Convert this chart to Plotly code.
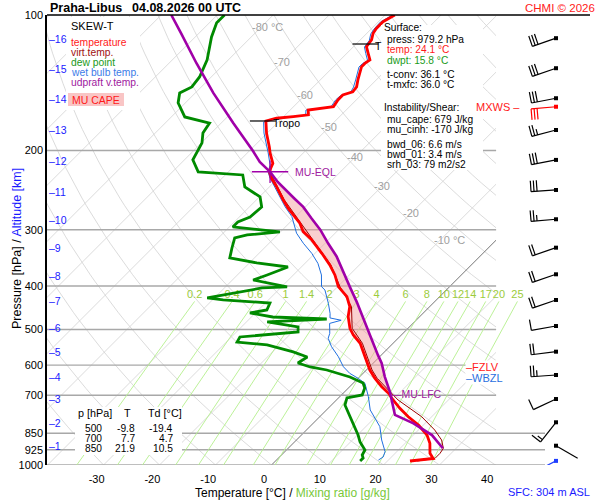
import numpy as np
import plotly.graph_objects as go

FONT = "Liberation Sans, Arial, sans-serif"

# ---------------- sounding Praha-Libus, 04.08.2026 00 UTC ----------------
# temperature: pressure [hPa] / temperature [°C]
t_p = [979.7, 972.2, 967.3, 941.9, 894.9, 857.6, 814.9, 781.2, 748.2, 717.1,
       693.0, 669.9, 641.8, 615.1, 574.5, 536.4, 514.2, 496.8, 468.0, 444.6,
       422.4, 401.5, 378.2, 359.3, 338.5, 316.0, 302.9, 290.2, 269.1, 257.7,
       240.6, 230.6, 224.1, 219.2, 213.6, 202.8, 196.2, 183.1, 172.0, 169.6,
       168.2, 166.7, 162.6, 161.1, 159.8, 154.4, 150.6, 148.1, 144.4, 139.4,
       134.8, 130.3, 128.1, 125.9, 121.7, 117.6, 113.6, 109.8, 107.1, 103.5, 100.0]
t_c = [24.0, 25.8, 27.7, 26.2, 24.4, 22.4, 19.1, 15.8, 12.8, 10.1,
       8.1, 5.7, 3.0, 0.6, -2.6, -5.9, -8.6, -10.4, -12.8, -14.3,
       -16.6, -19.9, -22.6, -25.3, -28.8, -33.0, -36.0, -38.1, -42.8, -45.2,
       -48.8, -51.2, -52.5, -53.1, -53.6, -55.9, -57.2, -60.1, -62.4, -61.0,
       -58.3, -55.9, -56.8, -55.0, -52.9, -53.3, -53.3, -52.1, -52.3, -53.3,
       -54.1, -55.0, -55.0, -54.7, -56.2, -57.7, -58.0, -58.9, -59.2, -59.2, -58.3]

# dew point
td_p = [979.7, 964.8, 950.0, 926.1, 889.0, 857.7, 827.5, 794.4, 766.3, 735.7,
        709.6, 698.9, 674.3, 657.2, 637.5, 627.6, 615.0, 605.6, 593.3, 575.3,
        560.8, 541.1, 533.0, 519.4, 506.3, 493.5, 481.0, 473.7, 468.9, 459.3,
        452.4, 436.5, 429.8, 425.4, 404.2, 402.1, 388.0, 378.2, 363.1, 355.6,
        346.7, 329.4, 312.9, 308.2, 303.5, 295.8, 288.3, 281.1, 267.1, 253.6,
        247.3, 241.0, 226.7, 223.2, 209.9, 192.4, 182.9, 173.8, 168.5, 162.5,
        156.8, 149.0, 144.5, 137.3, 125.8, 111.9, 104.1, 100.0]
td_c = [15.1, 15.1, 14.4, 14.0, 11.7, 10.1, 8.3, 6.3, 4.4, 2.4,
        1.5, 3.7, 2.9, 1.7, -1.7, -4.0, -7.1, -10.6, -13.5, -12.9,
        -16.3, -22.2, -28.1, -28.5, -19.0, -19.9, -26.3, -16.2, -26.2, -31.0,
        -28.5, -29.2, -38.1, -41.3, -33.3, -29.0, -36.3, -34.7, -32.4, -38.7,
        -44.4, -45.8, -47.1, -45.4, -40.1, -49.4, -49.4, -48.1, -47.8, -49.9,
        -52.1, -54.4, -56.9, -65.4, -68.5, -69.9, -71.5, -72.1, -77.6, -79.4,
        -81.3, -82.8, -81.7, -82.1, -83.8, -87.1, -88.7, -88.7]

# wet bulb temperature
tw_p = [974.7, 959.9, 934.2, 910.6, 879.9, 821.9, 787.4, 754.6, 705.0, 658.4,
        641.8, 625.6, 604.9, 574.5, 545.9, 522.9, 509.8, 484.6, 476.8, 471.2,
        460.4, 437.3, 408.4, 401.5, 378.2, 356.4, 338.5, 321.5, 305.4, 280.5,
        266.6, 253.4, 239.8, 230.2, 223.3, 215.4, 202.5, 195.5, 182.9, 173.0,
        170.2, 168.5, 167.2, 162.6, 161.3, 160.0, 154.4, 151.0, 148.4, 144.6,
        139.4, 134.9, 130.5, 128.2, 126.3, 121.8, 117.8, 113.9, 110.2, 107.5,
        103.6, 100.0]
tw_c = [18.2, 18.5, 17.9, 16.7, 15.2, 12.5, 10.1, 7.8, 5.1, 2.1,
        0.0, -2.4, -4.7, -7.4, -10.4, -12.5, -13.1, -14.9, -13.4, -15.8,
        -16.6, -18.7, -21.7, -22.9, -25.0, -27.7, -30.6, -33.9, -36.9, -40.7,
        -43.7, -46.4, -49.4, -51.5, -52.9, -53.8, -56.3, -57.8, -60.6, -62.6,
        -61.2, -58.7, -56.3, -57.2, -55.4, -53.3, -53.7, -53.6, -52.4, -52.8,
        -53.7, -54.5, -55.4, -55.4, -55.0, -56.6, -58.0, -58.3, -59.2, -59.5,
        -59.6, -58.7]

# virtual temperature
tv_p = [979.7, 966.3, 941.9, 918.1, 879.9, 836.2, 781.2, 717.1, 687.5, 641.8,
        615.1, 574.5, 536.4, 496.8, 444.6, 401.5, 359.3, 316.0, 290.2, 257.7, 224.1]
tv_c = [25.3, 28.0, 28.0, 27.7, 25.9, 22.9, 18.2, 11.0, 8.1, 3.4,
        1.0, -2.2, -5.5, -10.0, -14.0, -19.6, -25.1, -32.8, -37.9, -45.0, -52.4]

# most unstable parcel (updraft virtual temperature)
parcel_p = [918, 858, 808, 774, 723, 688, 637, 594, 570, 536, 501, 468, 434, 402, 372,
            344, 322, 300, 283, 267, 256, 245, 235, 223, 212, 200, 174, 149, 128, 110, 100]
parcel_c = [27.6, 23.3, 17.9, 13.1, 10.2, 8.1, 4.5, 1.5, -0.6, -3.6, -6.8, -10.1, -13.9,
            -17.8, -21.7, -25.6, -29.4, -33.3, -36.9, -40.4, -43.4, -46.4, -49.4, -52.6,
            -56.2, -59.5, -67.8, -76.8, -85.1, -93.1, -98.2]

# wind profile (direction [deg], speed [kt])
wind_p = [112.6, 131.3, 153.1, 180.1, 209.9, 244.8, 284.4, 328.9, 376.9, 429.8,
          491.1, 560.0, 630.9, 713.5, 803.7, 906.0]
wind_dir = [251, 251, 259, 255, 259, 266, 265, 251, 251, 251, 260, 263, 266, 245, 218, 120]
wind_kt = [30, 30, 30, 25, 30, 30, 25, 20, 20, 20, 10, 20, 25, 10, 15, 0]
sfc_wind = (979.2, 243, 0)
mxws_wind = (159.9, 265, 30)

# special levels
lfc_p, eql_p = 696.0, 223.0
fzl_p, wbzl_p = 607.0, 642.0
tropo_p = [172.0, 116.0]

# altitude marks [km] on the left axis
alt_km = list(range(1, 17))
alt_p = [907.3, 807.8, 714.5, 636.4, 561.7, 495.3, 431.4, 379.6, 329.9, 285.4,
         246.9, 211.0, 180.1, 153.7, 131.8, 113.1]

# standard level table
tab_p = ["500", "700", "850"]
tab_t = ["-9.8", "7.7", "21.9"]
tab_td = ["-19.4", "4.7", "10.5"]

surface_info = [("Surface:", "black", 0), ("press: 979.2 hPa", "black", 1),
                ("temp: 24.1 °C", "#ff1a1a", 1), ("dwpt: 15.8 °C", "#1a9a1a", 1),
                ("t-conv: 36.1 °C", "black", 1), ("t-mxfc: 36.0 °C", "black", 1)]
shear_info = ["Instability/Shear:", "mu_cape: 679 J/kg", "mu_cinh: -170 J/kg",
              "bwd_06: 6.6 m/s", "bwd_01: 3.4 m/s", "srh_03: 79 m2/s2"]

# diagram grid
isobars = [200, 300, 400, 500, 600, 700, 850, 925, 1000]
mix_w = [0.2, 0.4, 0.6, 1, 1.4, 2, 3, 4, 6, 8, 10, 12, 14, 17, 20, 25]
t_ticks = [-30, -20, -10, 0, 10, 20, 30, 40]
iso_lab_t = [-80, -70, -60, -50, -40, -30, -20, -10]
iso_lab_p = [106.3, 127.1, 150.5, 177.3, 206.8, 239.8, 275.4, 316.2]

# ---------------- geometry ----------------
SKEW = 80.3                 # isotherm skew, degC per pressure decade
PXD = 5.6                   # pixels per degree
X0, X1 = -40.1, 40.1        # diagram range (skewed degC)
X2MAX = X0 + (600 - 47) / PXD


def skew_x(t, p):
    return np.asarray(t, float) + SKEW * np.log10(1000.0 / np.asarray(p, float))


def td_from_w(w, p):
    e = w * p / (622.0 + w)
    a = np.log(e / 6.112)
    return 243.5 * a / (17.67 - a)


def t_at(p, pp, tt):
    return float(np.interp(np.log(p), np.log(pp)[::-1], np.asarray(tt)[::-1]))


fig = go.Figure()


def line(x, y, color, width=1.0, axis="x", dash=None):
    fig.add_trace(go.Scatter(x=x, y=y, mode="lines", xaxis=axis, yaxis="y",
                             line=dict(color=color, width=width, dash=dash),
                             hoverinfo="skip", showlegend=False))


# isotherms and dry adiabats (clipped to the diagram axis)
gx, gy = [], []
for t0 in range(-130, 50, 10):
    if t0 != 0:
        gx += [t0, t0 + SKEW, None]
        gy += [1000, 100, None]
line(gx, gy, "#d2d2d2", 0.8)
pp = np.geomspace(1000, 100, 60)
ax_, ay_ = [], []
for th in range(-40, 190, 10):
    tt = (th + 273.15) * (pp / 1000.0) ** 0.2857 - 273.15
    ax_ += list(skew_x(tt, pp)) + [None]
    ay_ += list(pp) + [None]
line(ax_, ay_, "#d2d2d2", 0.8)
line([0, SKEW], [1000, 100], "#505050", 0.8)

# dummy trace for the temperature label axis
fig.add_trace(go.Scatter(x=[0], y=[1000], xaxis="x4", yaxis="y", mode="markers",
                         marker=dict(opacity=0), hoverinfo="skip", showlegend=False))

# isobars
for p in isobars:
    xe = X1 if p < 800 else X0 + (545 - 47) / PXD
    line([X0, xe], [p, p], "#a8a8a8", 1.4, axis="x2")

# mixing ratio lines
mp = np.geomspace(1000, 433, 14)
for w in mix_w:
    line(skew_x(td_from_w(w, mp), mp), mp, "#b4ef8c", 0.9, axis="x2")
fig.add_trace(go.Scatter(
    x=[float(skew_x(td_from_w(w, 433.0), 433.0)) for w in mix_w], y=[419] * len(mix_w),
    xaxis="x2", yaxis="y", mode="text", text=[f"{w:g}" for w in mix_w],
    textfont=dict(family=FONT, size=11, color="#9ccc3c"), hoverinfo="skip", showlegend=False))

# CAPE area between parcel and environment
par_p, par_c, env_p, env_c = map(np.asarray, (parcel_p, parcel_c, t_p, t_c))
m1 = (par_p >= 222) & (par_p <= lfc_p)
m2 = (env_p >= 222) & (env_p <= lfc_p)
poly_x = list(skew_x(par_c[m1], par_p[m1])) + list(skew_x(env_c[m2], env_p[m2])[::-1])
poly_y = list(par_p[m1]) + list(env_p[m2][::-1])
fig.add_trace(go.Scatter(x=poly_x, y=poly_y, xaxis="x2", yaxis="y", mode="lines",
                         fill="toself", fillcolor="rgba(244,160,160,0.5)",
                         line=dict(width=0), hoverinfo="skip", showlegend=False))

# profiles
line(skew_x(tv_c, tv_p), tv_p, "#9a0000", 1.0, axis="x2")
line(skew_x(tw_c, tw_p), tw_p, "#2070e0", 1.0, axis="x2")
line(skew_x(td_c, td_p), td_p, "#008a00", 2.8, axis="x2")
line(skew_x(t_c, t_p), t_p, "#ff0000", 2.8, axis="x2")
line(skew_x(parcel_c, parcel_p), parcel_p, "#a000a8", 2.6, axis="x2")

# tropopause marks
for p, lab in zip(tropo_p, ["Tropo", "T"]):
    xt = float(skew_x(t_at(p, t_p, t_c), p))
    line([xt - 16 / PXD, xt + 10 / PXD], [p, p], "black", 1.2, axis="x2")
    fig.add_annotation(text=lab, x=xt, y=np.log10(p), xref="x2", yref="y", xanchor="left",
                       xshift=5, yshift=-2, showarrow=False,
                       font=dict(family=FONT, size=10.5, color="black"))

# MU-EQL / MU-LFC
x_eql = float(skew_x(t_at(eql_p, parcel_p, parcel_c), eql_p))
x_lfc = float(skew_x(t_at(lfc_p, parcel_p, parcel_c), lfc_p))
for sym, size in (("line-ew", 26), ("line-ns", 16)):
    fig.add_trace(go.Scatter(x=[x_eql], y=[eql_p], xaxis="x2", yaxis="y", mode="markers",
                             marker=dict(symbol=sym, size=size,
                                         line=dict(color="#a000a8", width=1.3)),
                             hoverinfo="skip", showlegend=False))
fig.add_annotation(text="MU-EQL", x=x_eql, y=np.log10(eql_p), xref="x2", yref="y",
                   xanchor="left", xshift=23, showarrow=False,
                   font=dict(family=FONT, size=10.5, color="#a020a0"))
fig.add_annotation(text="—MU-LFC", x=x_lfc, y=np.log10(lfc_p), xref="x2", yref="y",
                   xanchor="left", xshift=-1, showarrow=False,
                   font=dict(family=FONT, size=10.5, color="#a020a0"))


# wind barbs
def barb(p, wdir, speed, x0=60.0, shaft=25.0, flip=False):
    th = np.radians(wdir)
    ux, uy = np.sin(th), -np.cos(th)
    fx, fy = (-uy, ux) if not flip else (uy, -ux)
    segs = [((0, 0), (shaft * ux, shaft * uy))]
    lens = [11.0] * int(speed // 10) + ([6.0] if speed % 10 >= 5 else [])
    for i, ln in enumerate(lens):
        bx, by = (shaft - 3 * i) * ux, (shaft - 3 * i) * uy
        segs.append(((bx, by), (bx + ln * fx, by + ln * fy)))
    xs, ys = [], []
    for a, b in segs:
        for dx, dy in (a, b):
            xs.append(x0 + dx)
            ys.append(p * 10 ** (dy / 450.0))
        xs.append(None)
        ys.append(None)
    return xs, ys


def add_barbs(ps, dirs, spds, color, flip=False):
    bx, by = [], []
    for p, d, s in zip(ps, dirs, spds):
        xs, ys = barb(p, d, s, flip=flip)
        bx += xs
        by += ys
    line(bx, by, color, 1.2, axis="x3")
    fig.add_trace(go.Scatter(x=[60.0] * len(ps), y=list(ps), xaxis="x3", yaxis="y",
                             mode="markers", marker=dict(symbol="square", size=4, color=color),
                             hoverinfo="skip", showlegend=False))


add_barbs(wind_p, wind_dir, wind_kt, "black")
add_barbs([mxws_wind[0]], [mxws_wind[1]], [mxws_wind[2]], "#ff0000", flip=True)
add_barbs([sfc_wind[0]], [sfc_wind[1]], [sfc_wind[2]], "#1f3fff")


# ---------------- boxes and texts ----------------
def rect(x0, y0, x1, y1, color):
    fig.add_shape(type="rect", xref="paper", yref="paper", x0=x0 / 600, x1=x1 / 600,
                  y0=1 - y1 / 500, y1=1 - y0 / 500, fillcolor=color, line_width=0, layer="above")


def note(text, x, y, color="black", size=11, anchor="left", **kw):
    fig.add_annotation(text=text, x=x / 600, y=1 - y / 500, xref="paper", yref="paper",
                       xanchor=anchor, yanchor="middle", showarrow=False, borderpad=0,
                       font=dict(family=FONT, size=size, color=color), **kw)


def pnote(text, x, p, color="black", size=11, anchor="left", **kw):
    fig.add_annotation(text=text, x=x / 600, y=np.log10(p), xref="paper", yref="y",
                       xanchor=anchor, yanchor="middle", showarrow=False, borderpad=0,
                       font=dict(family=FONT, size=size, color=color), **kw)


rect(66, 17, 140, 110, "white")
rect(68, 93, 124, 106, "#f9c5c5")
rect(381, 25, 483, 170, "white")
rect(75, 407, 182, 455, "white")
fig.add_shape(type="line", xref="paper", yref="paper", x0=47 / 600, x1=590 / 600,
              y0=1 - 15 / 500, y1=1 - 15 / 500, line=dict(color="black", width=1.5))

# isotherm labels
for t0, p in zip(iso_lab_t, iso_lab_p):
    edge = t0 in (-80, -10)
    fig.add_annotation(text=f"{t0} °C" if edge else f"{t0}", x=float(skew_x(t0, p)),
                       y=np.log10(p), xref="x2", yref="y",
                       xanchor="left" if edge else "center",
                       xshift={-80: -11, -10: -8}.get(t0, 0), showarrow=False,
                       font=dict(family=FONT, size=11, color="#a0a0a0"))

# altitude marks
for km, p in zip(alt_km, alt_p):
    pnote(f"–{km}", 47.5, p, color="#1a1aff", size=10.5)

# freezing / wet bulb zero levels, max wind
pnote("–FZLV", 465, fzl_p, color="#ff2020", size=11, bgcolor="white")
pnote("–WBZL", 465, wbzl_p, color="#2a6fe0", size=11, bgcolor="white")
pnote("MXWS –", 521, mxws_wind[0], color="#ff2020", size=11, anchor="right")

# legend
note("SKEW-T", 70, 26)
for i, (txt, col) in enumerate([("temperature", "#ff1a1a"), ("virt.temp.", "#a01010"),
                                ("dew point", "#1a9a1a"), ("wet bulb temp.", "#3c7ce8"),
                                ("udpraft v.temp.", "#a020a0")]):
    note(txt, 70, 42.3 + 10 * i, color=col, size=10.3)
note("MU CAPE", 96, 100, color="#ff1a1a", size=10.5, anchor="center")

# surface and instability info
for i, (txt, col, ind) in enumerate(surface_info):
    yy = [27.3, 40, 50, 60, 74.3, 84.3][i]
    note(txt, 382.7 + 3.3 * ind, yy, color=col, size=10.2)
for i, txt in enumerate(shear_info):
    yy = [107.7, 119.3, 129.3, 144.3, 154.3, 164.3][i]
    note(txt, 382.7 + (3.3 if i else 0), yy, size=10.2)

# standard level table
note("p [hPa]", 77, 413.3, size=10.8)
note("T", 127, 413.3, anchor="center", size=10.8)
note("Td [°C]", 146.7, 413.3, size=10.8)
for i in range(3):
    yy = 428.3 + 10 * i
    note(tab_p[i], 103, yy, anchor="right", size=10.2)
    note(tab_t[i], 135.5, yy, anchor="right", size=10.2)
    note(tab_td[i], 173.5, yy, anchor="right", size=10.2)

# titles
note("<b>Praha-Libus</b>", 49, 7.5, size=12.5)
note("<b>04.08.2026 00 UTC</b>", 131, 7.5, size=12.5)
note("CHMI © 2026", 596, 7.5, color="#ff2020", size=11.5, anchor="right")
note("SFC: 304 m ASL", 591, 492, color="#1a1aff", size=11, anchor="right")
note("Temperature [°C] / <span style='color:#79c83a'>Mixing ratio [g/kg]</span>",
     292, 493, size=12, anchor="center")
fig.add_annotation(text="Pressure [hPa] / <span style='color:#1a1aff'>Altitude [km]</span>",
                   x=8 / 600, y=1 - 249 / 500, xref="paper", yref="paper", textangle=-90,
                   showarrow=False, font=dict(family=FONT, size=12.5, color="black"))

fig.update_layout(
    width=600, height=500, margin=dict(l=0, r=0, t=0, b=0), autosize=False,
    paper_bgcolor="white", plot_bgcolor="rgba(0,0,0,0)", showlegend=False,
    font=dict(family=FONT, size=11, color="black"),
    xaxis=dict(domain=[47 / 600, 496 / 600], range=[X0, X1], visible=False),
    xaxis2=dict(domain=[47 / 600, 1], range=[X0, X2MAX], visible=False, anchor="y"),
    xaxis3=dict(domain=[496 / 600, 1], range=[0, 104], visible=False, anchor="y"),
    xaxis4=dict(overlaying="x", anchor="y", side="bottom",
                range=[(47 - 264) / 5.58, (496 - 264) / 5.58],  # printed temperature scale
                tickmode="array", tickvals=t_ticks, ticktext=[str(t) for t in t_ticks],
                ticks="", showgrid=False, zeroline=False, showline=False, automargin=False,
                tickfont=dict(size=11, color="black"), ticklabelstandoff=6),
    yaxis=dict(domain=[0.07, 0.97], type="log", range=[3, 2], anchor="x", automargin=False,
               tickmode="array", tickvals=[100, 200, 300, 400, 500, 600, 700, 850, 925, 1000],
               ticktext=["100", "200", "300", "400", "500", "600", "700", "850", "925", "1000"],
               ticks="", showgrid=False, zeroline=False, showline=True,
               linecolor="black", linewidth=1.5, tickfont=dict(size=11, color="black")),
)

fig.write_html("out.html", config={"displayModeBar": False},
               post_script="document.body.style.margin='0px';"
                           "document.body.style.overflow='hidden';")
